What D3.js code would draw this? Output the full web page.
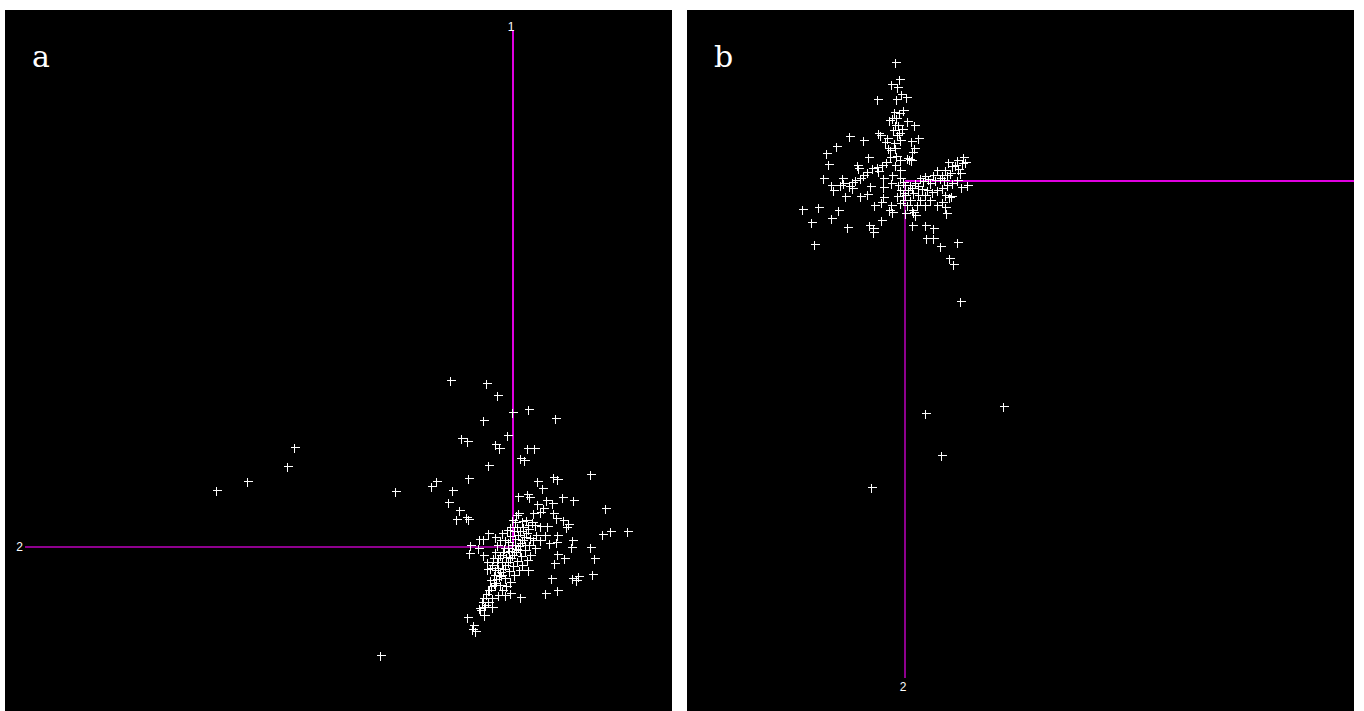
<!DOCTYPE html>
<html><head><meta charset="utf-8">
<script src="https://cdn.jsdelivr.net/npm/d3@7"></script>
<style>html,body{margin:0;padding:0;background:#fff;}svg{display:block;}</style>
</head><body>
<script>
// Panel a scores (component 2 on horizontal, component 1 on vertical)
const aX = [-0.63,-0.27,-0.16,-0.01,0.15,0.42,-0.30,-0.06,-0.52,-0.46,-0.18,-0.14,0.14,0.21,0.07,0.11,-0.25,-0.45,-0.61,-0.65,-0.54,-0.57,-0.47,-0.45,0.24,0.29,0.40,0.44,0.77,-2.97,-2.66,-2.26,-2.19,-1.18,-0.82,-0.77,-1.33,0.05,0.14,0.16,0.24,0.33,0.39,0.49,0.60,0.92,0.05,0.20,0.27,0.30,0.40,0.43,0.50,0.55,0.53,0.02,0.09,0.15,0.22,0.27,0.34,-0.03,-0.25,-0.34,-0.30,0.89,0.97,1.14,0.44,0.59,0.36,0.43,0.58,0.77,0.81,-0.44,-0.30,0.44,0.51,0.41,-0.26,-0.23,-0.26,0.15,0.38,0.59,0.65,0.63,0.79,0.32,0.44,-0.03,0.07,-0.25,-0.18,-0.31,-0.34,-0.28,-0.21,-0.46,-0.29,-0.40,-0.41,-0.38,
-0.30,-0.27,-0.24,-0.22,-0.19,-0.23,-0.17,-0.14,-0.19,-0.13,-0.10,-0.15,-0.08,-0.05,-0.11,-0.03,-0.07,-0.01,-0.13,0.01,-0.04,0.03,-0.09,0.05,-0.01,0.07,-0.05,0.09,0.02,0.11,0.05,-0.03,0.13,0.07,0.01,0.15,0.10,0.04,-0.06,-0.13,-0.16,-0.18,-0.20,-0.21,-0.16,-0.12,-0.08,-0.04,0.00,0.04,0.08,0.12,0.16,0.20,0.23,0.17,0.14,0.09,0.06,0.01,-0.03,-0.07,-0.11,-0.15,-0.21,-0.25,-0.29,-0.33,-0.01,0.03,0.13,0.19,-0.18,-0.11,-0.35,-0.43,
-0.08,-0.05,0.02,-0.10,-0.15,0.07,0.12,-0.18,-0.13,-0.08,0.17,0.22,0.27,0.32];
const aY = [1.67,1.64,1.52,1.35,1.38,1.29,1.27,1.12,1.09,1.06,1.03,0.99,0.99,0.99,0.89,0.87,0.82,0.69,0.57,0.45,0.37,0.28,0.30,0.28,0.66,0.59,0.70,0.68,0.73,0.57,0.66,0.81,1.00,0.56,0.61,0.66,-1.08,0.51,0.53,0.50,0.43,0.47,0.44,0.50,0.47,0.39,0.34,0.34,0.35,0.39,0.34,0.29,0.27,0.23,0.20,0.25,0.26,0.22,0.22,0.21,0.21,0.20,0.14,0.08,0.08,0.13,0.16,0.16,0.12,0.07,0.04,0.05,0.00,0.00,-0.11,-0.06,-0.08,-0.07,-0.11,-0.16,-0.15,-0.21,-0.22,-0.23,-0.31,-0.31,-0.29,-0.33,-0.27,-0.46,-0.43,-0.46,-0.50,-0.43,-0.38,-0.55,-0.61,-0.58,-0.60,-0.70,-0.68,-0.78,-0.82,-0.84,
-0.51,-0.47,-0.43,-0.39,-0.36,-0.33,-0.32,-0.29,-0.28,-0.25,-0.22,-0.21,-0.18,-0.15,-0.15,-0.11,-0.10,-0.08,-0.08,-0.05,-0.04,-0.02,-0.01,0.01,0.02,0.04,0.05,0.07,0.08,0.10,0.12,0.11,0.14,0.16,0.16,0.18,0.20,0.20,0.17,0.07,0.02,-0.05,-0.11,-0.18,-0.15,-0.28,-0.31,-0.24,-0.19,-0.14,-0.09,-0.03,0.02,0.07,0.12,0.09,-0.13,-0.18,-0.23,-0.28,-0.35,-0.39,-0.43,-0.48,-0.51,-0.55,-0.60,-0.63,0.27,0.32,0.27,0.25,0.10,0.14,-0.01,0.02,
0.07,-0.01,0.02,-0.05,-0.11,-0.03,0.02,-0.23,-0.38,-0.48,-0.08,-0.01,0.07,0.12];

// Panel b scores
const bX = [-0.10,-0.06,-0.14,-0.08,-0.04,0.01,-0.09,-0.28,-0.11,-0.06,-0.13,-0.16,-0.09,0.02,0.09,-0.10,-0.03,-0.12,-0.06,-0.27,-0.25,-0.18,-0.20,-0.08,-0.05,-0.11,0.06,0.13,-0.56,-0.42,-0.69,-0.79,-0.77,-0.37,-0.17,-0.10,0.09,0.07,0.04,-0.15,-0.09,-0.05,0.02,0.06,-0.48,-0.47,-0.33,-0.28,-0.23,-0.19,-0.27,-0.82,-0.63,-0.62,-0.65,-0.74,-0.72,-0.53,-0.50,-0.45,-0.42,-0.38,-0.56,-0.53,-0.35,-0.22,-0.13,-0.14,-0.05,-0.60,-0.45,-0.38,-0.22,-0.22,-1.03,-0.87,-0.67,-0.94,-0.74,-0.58,-0.91,-0.31,-0.24,-0.16,-0.13,-0.14,-0.36,-0.32,-0.32,-0.24,
0.43,0.50,0.58,0.60,0.53,0.55,0.62,0.56,0.42,0.37,0.32,0.28,0.23,0.18,0.13,0.17,0.22,0.27,0.32,0.37,0.42,0.47,0.52,0.45,0.39,
-0.02,0.03,0.00,0.05,-0.02,0.02,-0.05,-0.08,0.08,0.07,0.12,0.15,0.20,0.25,0.32,0.37,0.40,0.00,0.08,0.10,0.40,0.41,0.44,0.46,0.07,0.20,0.28,0.28,0.21,0.35,0.52,0.44,0.48,0.55,0.20,0.98,0.36,-0.34,
0.05,0.10,0.15,0.20,0.25,0.30,0.35,0.40,0.47,0.52,0.57,-0.05,-0.07,-0.02,
0.00,0.07,0.13,0.20,-0.05,-0.10,-0.15,-0.07,-0.02];
const bY = [1.19,1.02,0.97,0.94,0.87,0.84,0.82,0.82,0.69,0.68,0.63,0.61,0.63,0.60,0.56,0.56,0.52,0.51,0.48,0.48,0.46,0.43,0.39,0.46,0.41,0.38,0.40,0.43,0.45,0.41,0.35,0.28,0.17,0.24,0.33,0.33,0.33,0.29,0.22,0.24,0.25,0.21,0.23,0.21,0.16,0.13,0.13,0.14,0.16,0.19,0.10,0.03,0.03,-0.02,-0.04,-0.04,-0.09,-0.01,0.01,0.03,0.06,0.09,-0.05,-0.07,-0.05,0.03,0.06,-0.02,0.03,-0.15,-0.15,-0.13,-0.06,-0.16,-0.28,-0.26,-0.29,-0.41,-0.37,-0.46,-0.63,-0.24,-0.21,-0.29,-0.31,-0.24,-0.44,-0.47,-0.51,-0.39,
0.19,0.16,0.24,0.19,0.12,0.08,-0.04,-0.06,0.06,0.06,0.11,0.06,0.02,0.00,-0.05,-0.08,-0.09,-0.11,-0.09,-0.07,-0.04,-0.02,0.01,0.08,0.01,
-0.01,-0.09,-0.14,-0.19,-0.19,-0.24,-0.22,-0.15,-0.12,-0.29,-0.24,-0.19,-0.24,-0.19,-0.24,-0.21,-0.14,-0.32,-0.31,-0.34,-0.26,-0.32,-0.16,-0.15,-0.44,-0.44,-0.47,-0.57,-0.57,-0.65,-0.61,-0.77,-0.83,-1.20,-2.32,-2.25,-2.74,-3.06,
-0.04,-0.02,0.03,0.05,-0.02,0.01,0.03,0.11,0.15,0.21,0.18,-0.09,-0.04,-0.12,
-0.04,-0.07,-0.14,-0.14,0.11,0.16,0.31,0.56,0.71];

// Axis (variable) directions: label, end point, colour tone
const aAxes = [{label:"1", dx:0, dy:5.17, bright:true}, {label:"2", dx:-4.88, dy:0, bright:false}];
const bAxes = [{label:"", dx:4.49, dy:0, bright:true}, {label:"2", dx:0, dy:-4.97, bright:false}];
const panelLabels = ["a","b"];

const W = 1364, H = 711;
const svg = d3.select("body").append("svg").attr("width", W).attr("height", H);
svg.append("rect").attr("width", W).attr("height", H).attr("fill", "#fff");

const panels = [
  {left:5, top:10, w:667, h:701, xd:[-5.08,1.59], yd:[5.37,-1.64], xs:aX, ys:aY, axes:aAxes, label:panelLabels[0]},
  {left:687, top:10, w:667, h:701, xd:[-2.18,4.49], yd:[1.71,-5.30], xs:bX, ys:bY, axes:bAxes, label:panelLabels[1]}
];

panels.forEach(p => {
  const g = svg.append("g").attr("transform", `translate(${p.left},${p.top})`);
  g.append("rect").attr("width", p.w).attr("height", p.h).attr("fill", "#000");
  const x = d3.scaleLinear().domain(p.xd).range([0, p.w]);
  const y = d3.scaleLinear().domain(p.yd).range([0, p.h]);

  p.axes.forEach(a => {
    g.append("line")
      .attr("x1", x(0)).attr("y1", y(0))
      .attr("x2", x(a.dx)).attr("y2", y(a.dy))
      .attr("stroke", a.bright ? "#e000e0" : "#8e008e")
      .attr("stroke-width", 2);
  });
  p.axes.forEach(a => {
    if (!a.label) return;
    const lx = x(a.dx), ly = y(a.dy);
    const t = g.append("text").text(a.label)
      .attr("fill", "#fff").attr("font-family", "Liberation Sans, Arial, sans-serif")
      .attr("font-size", 12);
    if (a.dy > 0) t.attr("x", lx - 2).attr("y", ly + 1).attr("text-anchor", "middle");
    else if (a.dx < 0) t.attr("x", lx - 2).attr("y", ly + 4).attr("text-anchor", "end");
    else t.attr("x", lx - 2).attr("y", ly + 13).attr("text-anchor", "middle");
  });

  const pts = p.xs.map((v, i) => [v, p.ys[i]]);
  g.append("g").selectAll("path").data(pts).join("path")
    .attr("transform", d => `translate(${Math.round(x(d[0])) + 0.5},${Math.round(y(d[1])) + 0.5})`)
    .attr("d", "M-4,0H5M0,-4V5")
    .attr("stroke", "#fff").attr("stroke-width", 1).attr("fill", "none")
    .attr("shape-rendering", "crispEdges");

  g.append("text").text(p.label)
    .attr("x", 27).attr("y", 57)
    .attr("fill", "#fff").attr("font-family", "DejaVu Serif, Liberation Serif, serif")
    .attr("font-size", 30);
});
</script>
</body></html>
